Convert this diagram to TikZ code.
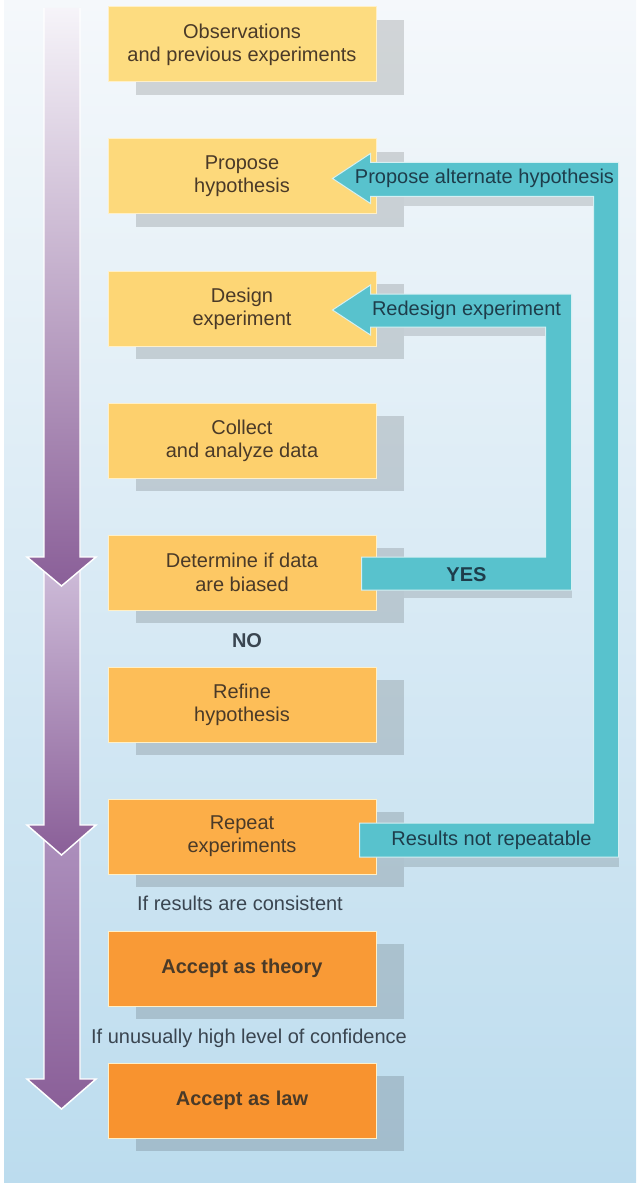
\documentclass[tikz,border=0pt]{standalone}
\usepackage{fontspec}
\setmainfont{Liberation Sans}
\usetikzlibrary{calc,shadows}
\definecolor{bgtop}{HTML}{F5F8FB}
\definecolor{bgbot}{HTML}{BCDCEE}
\definecolor{ca}{HTML}{FDDC80}
\definecolor{cb}{HTML}{FDD97B}
\definecolor{cc}{HTML}{FDD675}
\definecolor{cd}{HTML}{FDD06D}
\definecolor{ce}{HTML}{FDC864}
\definecolor{cf}{HTML}{FDBE58}
\definecolor{cg}{HTML}{FCAE48}
\definecolor{ch}{HTML}{F99A36}
\definecolor{ci}{HTML}{F8932F}
\definecolor{boxedge}{HTML}{FFF0C8}
\definecolor{boxtxt}{HTML}{4A3A28}
\definecolor{tealc}{HTML}{58C2CD}
\definecolor{tealedge}{HTML}{D5F0F3}
\definecolor{tealtxt}{HTML}{1E3D4B}
\definecolor{labtxt}{HTML}{3A4550}
\definecolor{plight}{HTML}{F6F4F9}
\definecolor{pmid}{HTML}{BDA6CB}
\definecolor{pmidb}{HTML}{AC8FBC}
\definecolor{pstart}{HTML}{CDBBD8}
\definecolor{pdark}{HTML}{8A5F98}
\begin{document}
\begin{tikzpicture}[x=0.75pt,y=-0.75pt,
  txtfont/.style={font=\fontsize{15}{17.5}\selectfont},
  stepbox/.style={rectangle, draw=boxedge, line width=0.75pt, fill=#1,
    minimum width=201pt, minimum height=56.25pt, inner sep=0pt, align=center,
    text=boxtxt, txtfont,
    general shadow={fill=black, fill opacity=0.14, shadow xshift=21pt, shadow yshift=-9.4pt}},
  tealarrow/.style={fill=tealc, draw=tealedge, line width=0.75pt, line join=miter},
  tealshadow/.style={fill=black, fill opacity=0.13},
  teallabel/.style={text=tealtxt, txtfont, inner sep=0pt},
  sidelabel/.style={text=labtxt, txtfont, inner sep=0pt},
  purpleedge/.style={draw=white, line width=1.1pt, line join=miter}]
\useasboundingbox (0,0) rectangle (636,1191);
\fill[white] (0,0) rectangle (636,1191);
\shade[top color=bgtop, bottom color=bgbot] (4,0) rectangle (636,1182);

% purple progress arrows
\shade[top color=pmidb, bottom color=pdark]
  (44,840) -- (80,840) -- (80,1079) -- (96,1079) -- (61.5,1109) -- (27,1079) -- (44,1079) -- cycle;
\draw[purpleedge] (80,840) -- (80,1079) -- (96,1079) -- (61.5,1109) -- (27,1079) -- (44,1079) -- (44,840);
\shade[top color=pstart, bottom color=pdark]
  (44,570) -- (80,570) -- (80,825) -- (96,825) -- (61.5,855) -- (27,825) -- (44,825) -- cycle;
\draw[purpleedge] (80,570) -- (80,825) -- (96,825) -- (61.5,855) -- (27,825) -- (44,825) -- (44,570);
\shade[top color=plight, middle color=pmid, bottom color=pdark]
  (44,8) -- (80,8) -- (80,557) -- (96,557) -- (61.5,586) -- (27,557) -- (44,557) -- cycle;
\draw[purpleedge] (80,8) -- (80,557) -- (96,557) -- (61.5,586) -- (27,557) -- (44,557) -- (44,8);

% steps
\node[stepbox=ca] (b1) at (242,44.5)  {Observations\\and previous experiments};
\node[stepbox=cb] (b2) at (242,176.5) {Propose\\hypothesis};
\node[stepbox=cc] (b3) at (242,308.5) {Design\\experiment};
\node[stepbox=cd] (b4) at (242,440.5) {Collect\\and analyze data};
\node[stepbox=ce] (b5) at (242,572.5) {Determine if data\\are biased};
\node[stepbox=cf] (b6) at (242,704.5) {Refine\\hypothesis};
\node[stepbox=cg] (b7) at (242,836.5) {Repeat\\experiments};
\node[stepbox=ch] (b8) at (242,968.5) {\textbf{Accept as theory}};
\node[stepbox=ci] (b9) at (242,1100.5) {\textbf{Accept as law}};

\coordinate (A) at (b2.east);
\coordinate (B) at (b7.east);
\coordinate (C) at (b3.east);
\coordinate (D) at (b5.east);

% teal shadows
\fill[tealshadow] ($(A)+(27,20)$) rectangle ($(A)+(217,30)$);
\fill[tealshadow] ($(C)+(27,18.5)$) rectangle ($(C)+(169,27.5)$);
\fill[tealshadow] ($(D)+(27,17.5)$) rectangle ($(D)+(195,25.5)$);
\fill[tealshadow] ($(B)+(27,20.5)$) rectangle ($(B)+(242,30.5)$);

% feedback: results not repeatable -> propose alternate hypothesis
\filldraw[tealarrow] ($(A)+(-44,2)$) -- ($(A)+(-6,-23)$) -- ($(A)+(-6,-14)$)
  -- ($(A)+(242,-14)$) -- ($(B)+(242,20.5)$) -- ($(B)+(-17,20.5)$)
  -- ($(B)+(-17,-13.5)$) -- ($(B)+(217,-13.5)$) -- ($(A)+(217,20)$)
  -- ($(A)+(-6,20)$) -- ($(A)+(-6,27)$) -- cycle;
% feedback: biased -> redesign experiment
\filldraw[tealarrow] ($(C)+(-44,1.5)$) -- ($(C)+(-6,-23.5)$) -- ($(C)+(-6,-14.5)$)
  -- ($(C)+(195,-14.5)$) -- ($(D)+(195,17.5)$) -- ($(D)+(-15,17.5)$)
  -- ($(D)+(-15,-15.5)$) -- ($(D)+(169,-15.5)$) -- ($(C)+(169,18.5)$)
  -- ($(C)+(-6,18.5)$) -- ($(C)+(-6,26.5)$) -- cycle;

\node[teallabel] (lalt) at ($(A)+(108,2)$) {Propose alternate hypothesis};
\node[teallabel] (lred) at ($(C)+(90,1.5)$) {Redesign experiment};
\node[teallabel] (lyes) at ($(D)+(90,2)$) {\textbf{YES}};
\node[teallabel] (lrep) at ($(B)+(115,4)$) {Results not repeatable};

\node[sidelabel] (lno) at ($(b5.south)!0.5!(b6.north)+(5,2)$) {\textbf{NO}};
\node[sidelabel] (lcons) at ($(b7.south)!0.5!(b8.north)+(-2,1)$) {If results are consistent};
\node[sidelabel] (lconf) at ($(b8.south)!0.5!(b9.north)+(7,4)$) {If unusually high level of confidence};
\end{tikzpicture}
\end{document}
